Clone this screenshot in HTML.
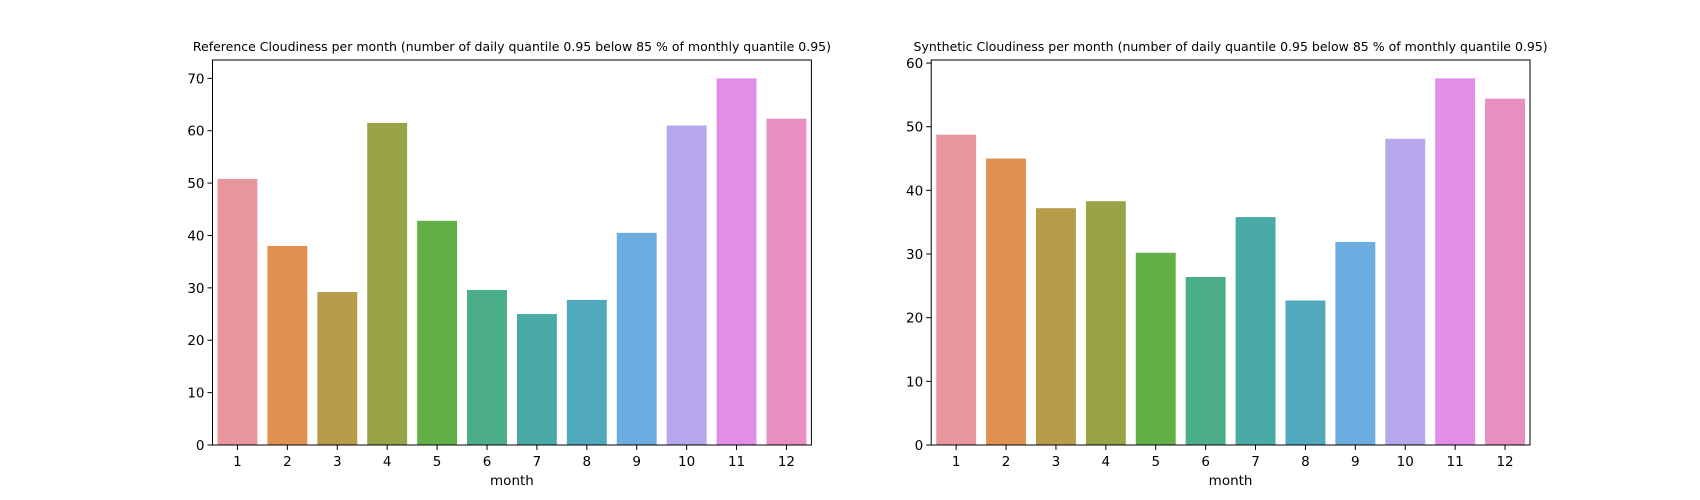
<!DOCTYPE html>
<html><head><meta charset="utf-8"><style>
body{margin:0;background:#fff;}
svg{display:block;font-family:"DejaVu Sans","Liberation Sans",sans-serif;}
</style></head><body>
<svg id="fig" width="1700" height="500"></svg>
<script>
const months = ["1","2","3","4","5","6","7","8","9","10","11","12"];
const refValues = [50.8, 38.0, 29.2, 61.5, 42.8, 29.6, 25.0, 27.7, 40.5, 61.0, 70.0, 62.3];
const synValues = [48.75, 45.0, 37.2, 38.3, 30.2, 26.4, 35.8, 22.7, 31.9, 48.1, 57.6, 54.4];
const refTicks = [0,10,20,30,40,50,60,70];
const synTicks = [0,10,20,30,40,50,60];
const colors = ["#e9969f","#e1914f","#b89c4a","#99a448","#62af48","#4bae88","#4aaaa6","#50a9bd","#6cade1","#b7a7ec","#e08ee8","#e88ec0"];

const NS="http://www.w3.org/2000/svg";
const svg=document.getElementById('fig');
function el(tag,attrs,parent){const e=document.createElementNS(NS,tag);for(const k in attrs)e.setAttribute(k,attrs[k]);(parent||svg).appendChild(e);return e;}

function panel(x0,x1,y0,y1,values,ticks,title,prefix){
  const g=el('g',{});
  
  
  const ymax=Math.max(...values)*1.05;
  const ys=v=>y1-(v/ymax)*(y1-y0);
  const n=months.length, step=(x1-x0)/n;
  const xs=i=>x0+step*(i+0.5);
  values.forEach((v,i)=>{
    const r=el('rect',{x:xs(i)-step*0.4,y:ys(v),width:step*0.8,height:y1-ys(v),fill:colors[i]},g);
    
    
  });
  const frame=el('rect',{x:x0,y:y0,width:x1-x0,height:y1-y0,fill:'none',stroke:'#000','stroke-width':1},g);
  
  
  ticks.forEach(t=>{
    const y=ys(t);
    el('line',{x1:x0-5,x2:x0,y1:y,y2:y,stroke:'#000'},g);
    const tx=el('text',{x:x0-8,y:y+5,'text-anchor':'end','font-size':13.5},g);
    tx.textContent=t;
    
    
  });
  months.forEach((m,i)=>{
    const x=xs(i);
    el('line',{x1:x,x2:x,y1:y1,y2:y1+5,stroke:'#000'},g);
    const tx=el('text',{x:x,y:y1+21,'text-anchor':'middle','font-size':13.5},g);
    tx.textContent=m;
    
    
  });
  const xl=el('text',{x:(x0+x1)/2,y:y1+40,'text-anchor':'middle','font-size':13.5},g);
  xl.textContent='month';
  
  
  const tt=el('text',{x:(x0+x1)/2,y:y0-9,'text-anchor':'middle','font-size':12.5},g);
  tt.textContent=title;
  
  
}
panel(212.5,811.4,60,445,refValues,refTicks,"Reference Cloudiness per month (number of daily quantile 0.95 below 85 % of monthly quantile 0.95)","reference");
panel(931.2,1530,60,445,synValues,synTicks,"Synthetic Cloudiness per month (number of daily quantile 0.95 below 85 % of monthly quantile 0.95)","synthetic");
</script>
</body></html>
